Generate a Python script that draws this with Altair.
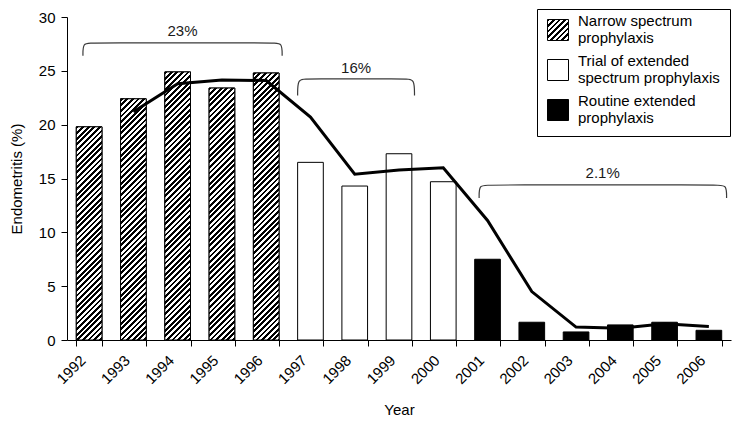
import json
import altair as alt
import pandas as pd

# ---------------- data ----------------
years = list(range(1992, 2007))
rates = [19.8, 22.4, 24.9, 23.4, 24.8, 16.5, 14.3, 17.3, 14.7, 7.5, 1.65, 0.75, 1.4, 1.65, 0.9]
group_names = ["Narrow spectrum|prophylaxis",
               "Trial of extended|spectrum prophylaxis",
               "Routine extended|prophylaxis"]
groups = [group_names[0]] * 5 + [group_names[1]] * 4 + [group_names[2]] * 6

trend_years = list(range(1993, 2007))
trend_values = [21.2, 23.8, 24.15, 24.1, 20.7, 15.4, 15.8, 16.0, 11.1, 4.5, 1.2, 1.1, 1.5, 1.25]

bracket_labels = ["23%", "16%", "2.1%"]
bracket_start = [1991.86, 1996.71, 2000.81]
bracket_end = [1996.36, 1999.35, 2006.40]
bracket_top = [27.6, 24.25, 14.4]
bracket_foot = [26.4, 22.7, 13.2]
label_x = [1994.11, 1998.03, 2003.60]
label_y = [28.7, 25.25, 15.5]

# ---------------- layout / style ----------------
W, H = 664, 323
YMAX = 30
FONT = "Liberation Sans"
FS = 15
PAD_INNER = 0.42
STEP = W / len(years)
BAR_W = STEP * (1 - PAD_INNER)
PERIOD = 5.6


def hatch(w, h, period=PERIOD):
    """Diagonal '////' hatch as a hard-stop linear gradient in bbox units."""
    k = (w + h) / (w * w + h * h)
    dt = period / (w + h)
    stops = []
    t = 0.0
    while t < 1:
        a = min(t + dt / 2, 1.0)
        b = min(t + dt, 1.0)
        stops += [
            {"offset": round(t, 5), "color": "black"},
            {"offset": round(a, 5), "color": "black"},
            {"offset": round(a, 5), "color": "white"},
            {"offset": round(b, 5), "color": "white"},
        ]
        t += dt
    return {"gradient": "linear", "x1": 0, "y1": 0, "x2": k * w, "y2": k * h, "stops": stops}


legend_hatch = alt.ExprRef(json.dumps(hatch(21, 21)))

df = pd.DataFrame({"year": years, "rate": rates, "group": groups})
trend_df = pd.DataFrame({"year": trend_years, "rate": trend_values})

xband = alt.X(
    "year:O",
    scale=alt.Scale(paddingInner=PAD_INNER, paddingOuter=PAD_INNER / 2),
    axis=alt.Axis(
        title="Year",
        tickBand="extent",
        labelAngle=-45,
        labelAlign="right",
        labelBaseline="alphabetic",
        labelOffset=-3,
        tickSize=6,
        labelPadding=15,
        titlePadding=16,
    ),
)
yscale = alt.Scale(domain=[0, YMAX], nice=False)
yenc = alt.Y(
    "rate:Q",
    scale=yscale,
    axis=alt.Axis(
        title="Endometritis (%)",
        values=list(range(0, 31, 5)),
        grid=False,
        tickSize=6,
        labelPadding=6,
        titlePadding=14,
    ),
)

bars = alt.Chart(df).mark_bar(stroke="black", strokeWidth=1).encode(
    x=xband,
    y=yenc,
    color=alt.Color(
        "group:N",
        scale=alt.Scale(domain=group_names, range=[legend_hatch, "white", "black"]),
        legend=alt.Legend(
            title=None,
            orient="none",
            legendX=470,
            legendY=-8,
            strokeColor="black",
            fillColor="white",
            padding=10,
            symbolType="square",
            symbolSize=441,
            symbolStrokeColor="black",
            symbolStrokeWidth=1,
            symbolOpacity=1,
            labelFontSize=FS,
            labelLimit=400,
            labelOffset=9,
            labelBaseline="line-bottom",
            rowPadding=8,
            labelExpr="split(datum.label, '|')",
        ),
    ),
)

hatch_layers = []
for yr, val, grp in zip(years, rates, groups):
    if grp != group_names[0]:
        continue
    h = val / YMAX * H
    hatch_layers.append(
        alt.Chart(df)
        .transform_filter(alt.datum.year == yr)
        .mark_bar(fill=hatch(BAR_W, h), stroke="black", strokeWidth=1)
        .encode(x=xband, y=yenc)
    )

trend = alt.Chart(trend_df).mark_line(color="black", strokeWidth=3).encode(x=xband, y=yenc)

main = alt.layer(bars, *hatch_layers, trend)

# brackets (annotation layer with a continuous x over the same span)
rows = []
for i, lab in enumerate(bracket_labels):
    x0, x1, yt, yf = bracket_start[i], bracket_end[i], bracket_top[i], bracket_foot[i]
    d = 0.18
    pts = [(x0, yf), (x0, yt), (x0 + d, yt), (x1 - d, yt), (x1, yt), (x1, yf)]
    for j, (px, py) in enumerate(pts):
        rows.append({"bid": lab, "ord": j, "bx": px, "rate": py})
bracket_df = pd.DataFrame(rows)
label_df = pd.DataFrame({"label": bracket_labels, "bx": label_x, "rate": label_y})

xq = alt.Scale(domain=[years[0] - 0.5, years[-1] + 0.5], nice=False, zero=False)

bracket_lines = alt.Chart(bracket_df).mark_line(
    interpolate="basis", color="#3a3a3a", strokeWidth=1.2
).encode(
    x=alt.X("bx:Q", scale=xq, axis=None),
    y=yenc,
    detail="bid:N",
    order="ord:Q",
)
bracket_text = alt.Chart(label_df).mark_text(
    fontSize=FS, baseline="middle", align="center", color="#1a1a1a"
).encode(
    x=alt.X("bx:Q", scale=xq, axis=None),
    y=yenc,
    text="label:N",
)
annot = alt.layer(bracket_lines, bracket_text)

chart = (
    alt.layer(main, annot)
    .resolve_scale(x="independent")
    .properties(
        width=W,
        height=H,
        autosize="none",
        padding={"left": 59, "top": 9, "right": 10, "bottom": 78},
    )
    .configure(font=FONT)
    .configure_view(stroke=None)
    .configure_axis(
        labelFont=FONT,
        titleFont=FONT,
        labelFontSize=FS,
        titleFontSize=FS,
        titleFontWeight="normal",
        labelColor="black",
        titleColor="black",
        domainColor="black",
        tickColor="black",
        domainWidth=1,
        tickWidth=1,
    )
    .configure_legend(labelFont=FONT, labelColor="black")
)

chart.save("out.html", embed_options={"renderer": "svg", "actions": False})
